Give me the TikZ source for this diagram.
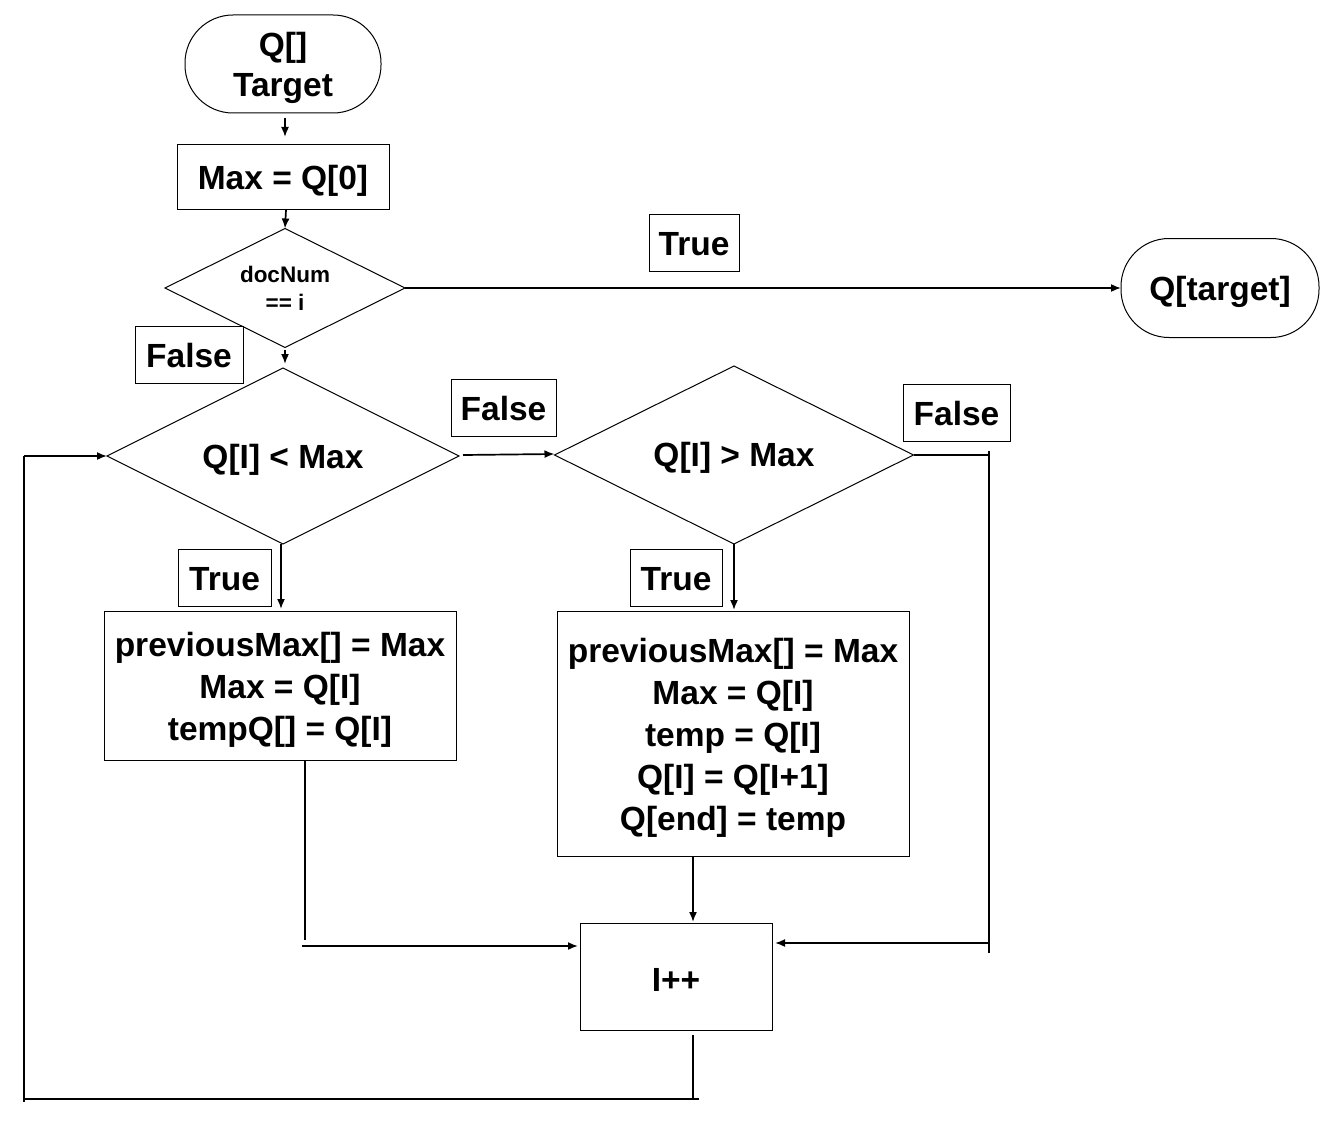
\documentclass[tikz,border=0pt]{standalone}
\usepackage{fontspec}
\setmainfont{Liberation Sans}
\usetikzlibrary{shapes.geometric,arrows.meta}
\begin{document}
\begin{tikzpicture}[x=1pt,y=-1pt,
  every node/.style={inner sep=0pt,outer sep=0pt,align=center,font=\fontsize{33.5}{42}\selectfont\bfseries},
  term/.style={draw,line width=1pt,rounded corners=48pt},
  procbox/.style={draw,line width=1pt},
  lbl/.style={draw,line width=1pt,minimum height=57pt},
  dia/.style={draw,diamond,line width=1pt},
  conn/.style={line width=1.7pt},
  arr/.style={conn,-{Latex[length=10pt,width=8pt]}}]
\useasboundingbox (0,0) rectangle (1340,1126);
% shapes
\node[term,minimum width=196pt,minimum height=98pt] (start) at (283,64) {};
\node[procbox,minimum width=212pt,minimum height=64pt] (max0) at (283,177) {};
\node[dia,minimum width=240pt,minimum height=119pt] (d1) at (285,288) {};
\node[term,minimum width=198pt,minimum height=99pt] (qt) at (1220,288) {};
\node[dia,minimum width=352pt,minimum height=176pt] (d2) at (283,456) {};
\node[dia,minimum width=359pt,minimum height=178pt] (d3) at (734,455) {};
\node[procbox,minimum width=352pt,minimum height=149pt] (box1) at (280,685.5) {};
\node[procbox,minimum width=352pt,minimum height=245pt] (box2) at (733,733.5) {};
\node[procbox,minimum width=192pt,minimum height=107pt] (inc) at (676,976.5) {};
% texts
\node[font=\fontsize{33.5}{40}\selectfont\bfseries] (startt) at ([yshift=-4pt]start.center) {Q[]\\Target};
\node (max0t) at ([yshift=-4pt]max0.center) {Max = Q[0]};
\node[font=\fontsize{22.5}{28}\selectfont\bfseries] (d1t) at (d1.center) {docNum\\== i};
\node (qtt) at ([yshift=-4pt]qt.center) {Q[target]};
\node (d2t) at ([yshift=-4pt]d2.center) {Q[I] < Max};
\node (d3t) at ([yshift=-3pt]d3.center) {Q[I] > Max};
\node (box1t) at ([yshift=-4.5pt]box1.center) {previousMax[] = Max\\Max = Q[I]\\tempQ[] = Q[I]};
\node (box2t) at ([yshift=-4.5pt]box2.center) {previousMax[] = Max\\Max = Q[I]\\temp = Q[I]\\Q[I] = Q[I+1]\\Q[end] = temp};
\node (inct) at ([yshift=-3pt]inc.center) {I++};
% labels
\node[lbl,minimum width=90pt] (t1) at (694,242.5) {};
\node[lbl,minimum width=108pt] (f1) at (189,354.5) {};
\node[lbl,minimum width=105pt] (f2) at (503.5,407.5) {};
\node[lbl,minimum width=107pt] (f3) at (956.5,412.5) {};
\node[lbl,minimum width=93pt] (t2) at (224.5,577.5) {};
\node[lbl,minimum width=92pt] (t3) at (676,577.5) {};
\node (t1t) at ([yshift=-2pt]t1.center) {True};
\node (f1t) at ([yshift=-1.5pt]f1.center) {False};
\node (f2t) at ([yshift=-1.5pt]f2.center) {False};
\node (f3t) at ([yshift=-1.5pt]f3.center) {False};
\node (t2t) at ([yshift=-1.5pt]t2.center) {True};
\node (t3t) at ([yshift=-1.5pt]t3.center) {True};
% helper coordinates
\coordinate (r1) at (989,455);
\coordinate (r2) at (989,943);
\coordinate (r1a) at (989,451);
\coordinate (r2a) at (989,953);
\coordinate (l1) at (305,760);
\coordinate (l2) at (305,940);
\coordinate (l3) at (302,946);
\coordinate (b1) at (693,1035);
\coordinate (b2) at (693,1099);
\coordinate (b2a) at (699,1099);
\coordinate (b3) at (24,1099);
\coordinate (b3a) at (24,1102);
\coordinate (b4) at (24,456);
% connectors
\draw[arr] ([xshift=2pt,yshift=-5pt]start.south) -- ([xshift=2pt,yshift=8pt]max0.north);
\draw[arr] ([xshift=1pt,yshift=-1pt]d1.north |- max0.south) -- (d1.north);
\draw[arr] (d1.east) -- (qt.west);
\draw[arr] ([yshift=-2pt]d1.south) -- ([xshift=2pt,yshift=4pt]d2.north);
\draw[arr] ([xshift=4pt,yshift=1pt]d2.east) -- ([yshift=1pt]d3.west);
\draw[conn] (d3.east) -- (r1);
\draw[conn] (r1a) -- (r2a);
\draw[arr] (r2) -- ([xshift=3pt]r2 -| inc.east);
\draw[arr] ([xshift=-2pt]d2.south) -- ([xshift=-2pt,yshift=2pt]d2.south |- box1.north);
\draw[arr] (d3.south) -- ([yshift=1pt]d3.south |- box2.north);
\draw[conn] (l1) -- (l2);
\draw[arr] (l3) -- ([xshift=-2pt]l3 -| inc.west);
\draw[arr] ([xshift=-40pt]box2.south) -- ([yshift=1pt]b1 |- inc.north);
\draw[conn] (b1) -- (b2) -- (b2a);
\draw[conn] (b2a) -- (b3) -- (b4);
\draw[conn] (b3) -- (b3a);
\draw[arr] (b4) -- (d2.west);
\end{tikzpicture}
\end{document}
